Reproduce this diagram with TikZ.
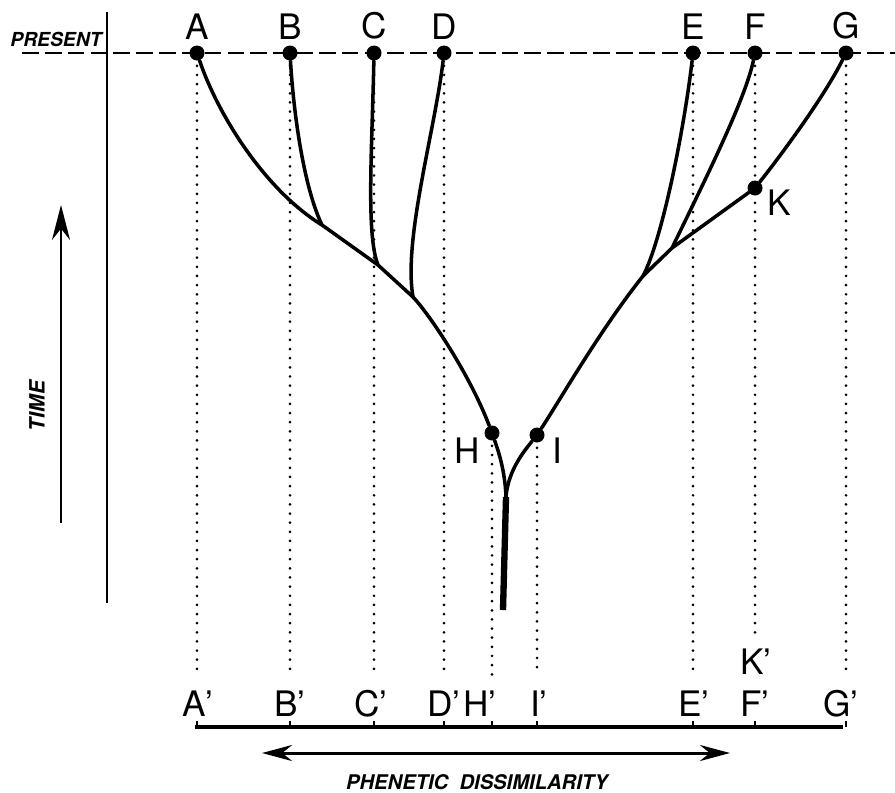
\documentclass[tikz,border=0pt]{standalone}
\usepackage{fontspec}
\setmainfont{TeX Gyre Heros}
\usetikzlibrary{positioning,arrows.meta}
\tikzset{
  tnode/.style={circle, fill=black, draw=none, minimum size=0.3cm, inner sep=0pt},
  tlabel/.style={inner sep=0pt, font=\fontsize{20}{22}\selectfont},
  tbranch/.style={line width=2pt, line cap=round},
  tstem/.style={line width=3.6pt},
  tdrop/.style={line width=1.7pt, line cap=round, dash pattern=on 0pt off 5.2pt,
                shorten <=1mm, shorten >=3mm},
  tagtext/.style={inner sep=0pt, font=\fontsize{11}{13}\selectfont\bfseries\itshape}
}
\newcommand{\pmark}[1]{#1\rlap{'}}

\begin{document}
\begin{tikzpicture}[x=0.02cm, y=-0.02cm]
  \useasboundingbox (0,0) rectangle (895,792);
  % present line and time axis
  \coordinate (presL) at (22,53);
  \coordinate (presR) at (895,53);
  \draw[line width=1.1pt, dash pattern=on 9.5pt off 3.5pt] (presL) -- (presR);
  \coordinate (vtop) at (107,12);
  \coordinate (vbot) at (107,603);
  \draw[line width=1.3pt] (vtop) -- (vbot);
  \coordinate (tbot) at (61,523);
  \coordinate (ttop) at (61,205);
  \draw[line width=1.6pt, -{Stealth[length=7mm, width=3.6mm]}] (tbot) -- (ttop);
  \node[tagtext] (present) at (56,39) {PRESENT};
  \node[tagtext, font=\fontsize{12}{14}\selectfont\bfseries\itshape, rotate=90] (time) at (37,406) {TIME};

  % taxa
  \node[tnode] (A) at (197,53) {};
  \node[tnode] (B) at (290,53) {};
  \node[tnode] (C) at (374,53) {};
  \node[tnode] (D) at (444,53) {};
  \node[tnode] (E) at (693,53) {};
  \node[tnode] (F) at (755,53) {};
  \node[tnode] (G) at (846,53) {};
  \node[tnode] (K) at (755,188) {};
  \node[tnode] (H) at (492,433) {};
  \node[tnode] (I) at (537,435) {};
  \foreach \t in {A,B,C,D,E,F,G}
    \node[tlabel, above=3pt of \t] (l\t) {\t};
  \node[tlabel] (lK) at (779,203) {K};
  \node[tlabel] (lH) at (467,451) {H};
  \node[tlabel] (lI) at (557,451) {I};

  % branch points
  \coordinate (jB) at (322,225);
  \coordinate (jC) at (378,265);
  \coordinate (jD) at (413,297);
  \coordinate (jE) at (643,276);
  \coordinate (jF) at (672,248);
  \coordinate (root) at (506,497);
  \coordinate (base) at (503,610);

  % left clade
  \draw[tbranch] (A) .. controls (218,115) and (265,190) .. (jB) -- (jC) -- (jD)
    .. controls (430,315) and (470,375) .. (H);
  \draw[tbranch] (B) .. controls (294,120) and (305,190) .. (jB);
  \draw[tbranch] (C) .. controls (372,150) and (366,235) .. (jC);
  \draw[tbranch] (D) .. controls (435,130) and (403,240) .. (jD);
  % right clade
  \draw[tbranch] (I) .. controls (560,400) and (600,330) .. (jE) -- (jF) -- (K)
    .. controls (785,150) and (825,95) .. (G);
  \draw[tbranch] (E) .. controls (684,130) and (662,240) .. (jE);
  \draw[tbranch] (F) .. controls (745,100) and (705,180) .. (jF);
  % stem
  \draw[tbranch] (H) .. controls (498,450) and (505,470) .. (root);
  \draw[tbranch] (I) .. controls (525,450) and (508,470) .. (root);
  \draw[tstem] (root) -- (base);

  % projected positions
  \node[tlabel] (pA) at (194,704) {\pmark{A}};
  \node[tlabel] (pB) at (286,704) {\pmark{B}};
  \node[tlabel] (pC) at (367,704) {\pmark{C}};
  \node[tlabel] (pD) at (440,704) {\pmark{D}};
  \node[tlabel] (pH) at (476,704) {\pmark{H}};
  \node[tlabel] (pI) at (535,704) {\pmark{I}};
  \node[tlabel] (pE) at (690,704) {\pmark{E}};
  \node[tlabel] (pF) at (751,704) {\pmark{F}};
  \node[tlabel] (pG) at (837,704) {\pmark{G}};
  \node[tlabel] (pK) at (752,662) {\pmark{K}};
  \foreach \t in {A,B,C,D,E,G,H,I}
    \draw[tdrop] (\t.south) -- (\t.south |- p\t.north);
  \draw[tdrop] (F.south) -- (F.south |- pK.north);

  % dissimilarity scale
  \coordinate (axL) at (195,727);
  \coordinate (axR) at (843,727);
  \draw[line width=2pt] (axL) -- (axR);
  \foreach \t in {A,B,C,D,H,I,E,F,G}
    \draw[line width=1.2pt] (\t |- axL) -- ++(0,-6);
  \coordinate (dL) at (262,753);
  \coordinate (dR) at (730,753);
  \draw[line width=1.7pt, {Stealth[length=6mm, width=3.2mm]}-{Stealth[length=6mm, width=3.2mm]}] (dL) -- (dR);
  \node[tagtext, font=\fontsize{11.5}{13}\selectfont\bfseries\itshape] (phen) at (477,782) {PHENETIC\ \ DISSIMILARITY};
\end{tikzpicture}
\end{document}
